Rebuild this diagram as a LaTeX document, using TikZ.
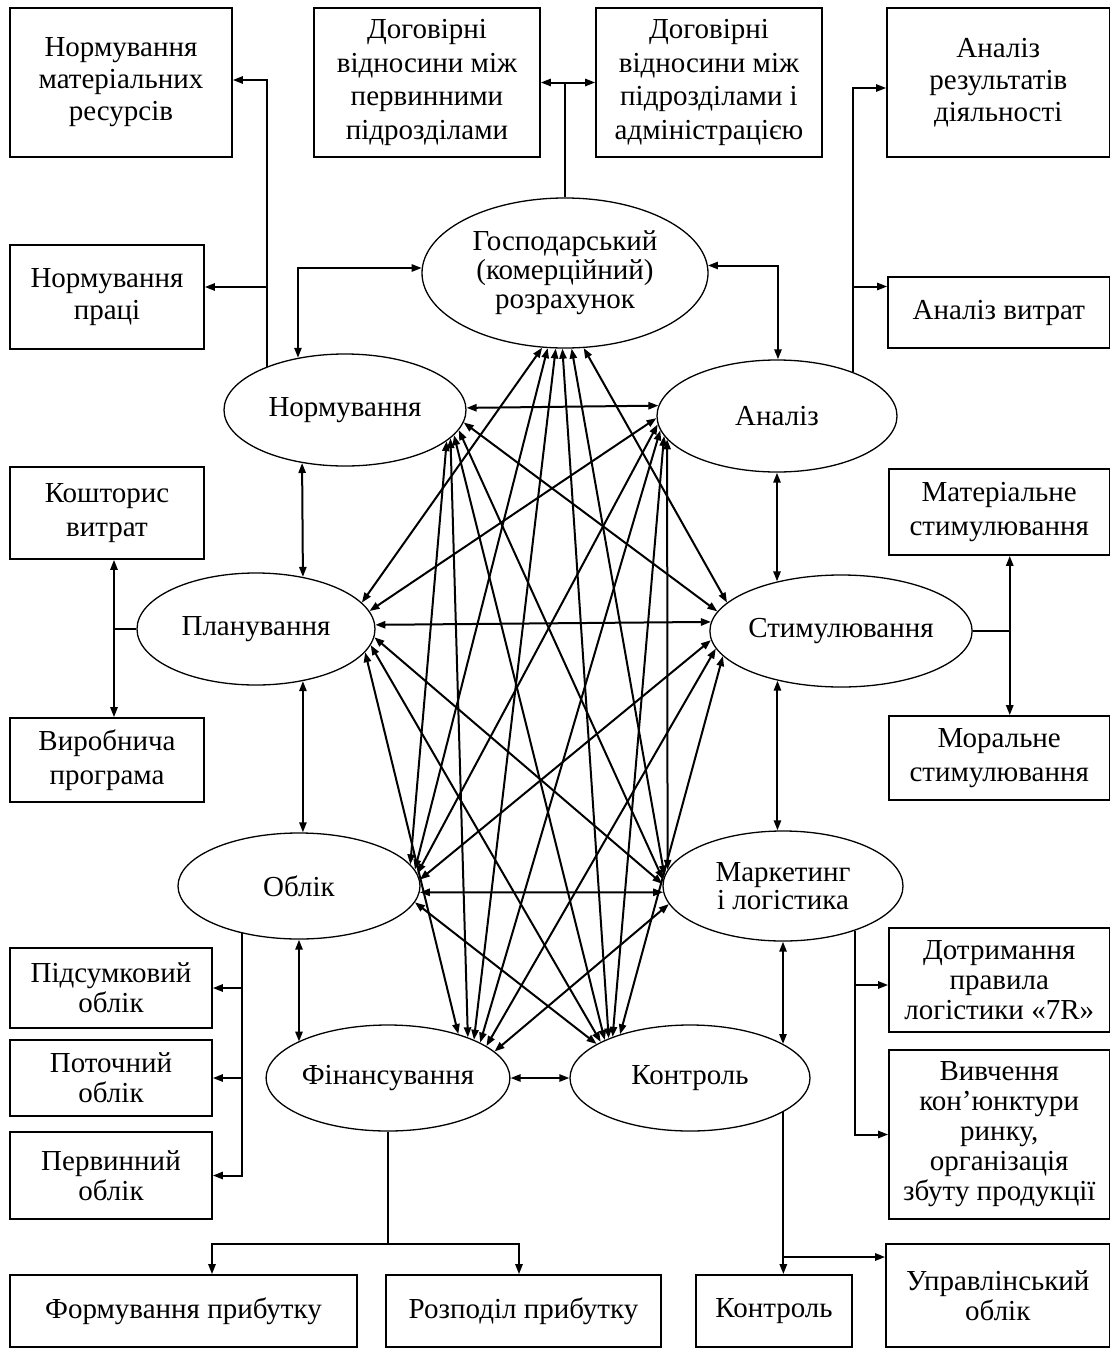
\documentclass[tikz,border=0pt]{standalone}
\usepackage{fontspec}
\setmainfont{Liberation Serif}
\usetikzlibrary{arrows.meta,shapes.geometric}
\begin{document}
\begin{tikzpicture}[x=0.5pt,y=-0.5pt,
  >={Triangle[length=5pt,width=3.6pt]},
  every node/.style={font=\fontsize{14.5}{16}\selectfont, align=center, inner sep=0pt},
  tight/.style={font=\fontsize{14.5}{15}\selectfont},
  loose/.style={font=\fontsize{14.5}{16.7}\selectfont},
  bx/.style 2 args={draw, rectangle, line width=0.85pt, minimum width={#1*0.5pt}, minimum height={#2*0.5pt}},
  el/.style 2 args={draw, ellipse, line width=0.65pt, minimum width={#1*1pt}, minimum height={#2*1pt}},
  arr/.style={line width=1pt, ->},
  darr/.style={line width=1pt, <->},
  ln/.style={line width=0.75pt}]
\useasboundingbox (0,0) rectangle (1111,1349);

% boxes
\node[bx={222}{149}] (nm) at (121,82.5) {Нормування\\матеріальних\\ресурсів};
\node[bx={226}{149}, loose] (dv1) at (427,82.5) {Договірні\\відносини між\\первинними\\підрозділами};
\node[bx={226}{149}, loose] (dv2) at (709,82.5) {Договірні\\відносини між\\підрозділами і\\адміністрацією};
\node[bx={222.5}{149}] (ar) at (998.25,82.5) {Аналіз\\результатів\\діяльності};
\node[bx={194}{104}] (np) at (107,297) {Нормування\\праці};
\node[bx={221.5}{71}] (av) at (998.75,312.5) {Аналіз витрат};
\node[bx={194}{92}, loose] (kv) at (107,513) {Кошторис\\витрат};
\node[bx={194}{84}, loose] (vp) at (107,760) {Виробнича\\програма};
\node[bx={220.5}{86}, loose] (ms) at (999.25,512) {Матеріальне\\стимулювання};
\node[bx={220.5}{84}, loose] (mrs) at (999.25,758) {Моральне\\стимулювання};
\node[bx={202}{80}, tight] (ps) at (111,988) {Підсумковий\\облік};
\node[bx={202}{76}, tight] (po) at (111,1078) {Поточний\\облік};
\node[bx={202}{87}, tight] (pe) at (111,1175.5) {Первинний\\облік};
\node[bx={347}{72}] (fp) at (183.5,1311) {Формування прибутку};
\node[bx={275}{72}] (rp) at (523.5,1311) {Розподіл прибутку};
\node[bx={156}{72}] (kb) at (774,1311) {Контроль};
\node[bx={223.5}{103}, tight] (uo) at (997.75,1295.5) {Управлінський\\облік};
\node[bx={220.5}{104}, tight] (d7) at (999.25,980) {Дотримання\\правила\\логістики «7R»};
\node[bx={220.5}{169}, tight] (vk) at (999.25,1134.5) {Вивчення\\кон’юнктури\\ринку,\\організація\\збуту продукції};

% ellipses
\node[el={143}{75}, font=\fontsize{14.5}{14.5}\selectfont] (G) at (565,273) {Господарський\\(комерційний)\\розрахунок};
\node[el={121}{56}] (N) at (345,410) {Нормування};
\node[el={120}{56}] (A) at (777,416) {Аналіз};
\node[el={119}{56}] (P) at (256,629) {Планування};
\node[el={120}{56}] (S) at (841,631) {Стимулювання};
\node[el={121}{53}] (O) at (299,886) {Облік};
\node[el={120}{55}, font=\fontsize{14.5}{14}\selectfont] (M) at (783,886) {Маркетинг\\і логістика};
\node[el={120}{53}] (F) at (388,1078) {Фінансування};
\node[el={120}{53}] (K) at (690,1078) {Контроль};

% mesh of mutual links
\foreach \a/\b in {G.-107/P.14, G.-103/O.8.5, G.-97/F.24, G.-92/K.154, G.-85/M.175, G.-76/S.166,
  N.1.66/A.175.4, N.-6/S.171, N.-10/M.177, N.-13/K.156, N.-15/F.27, N.-17/O.11,
  A.181/P.9, A.184/O.6, A.187/F.21, A.190/K.152, A.192.2/M.172,
  P.2.9/S.176.15, P.-4/M.179, P.-8/K.158, P.-12/F.32,
  S.184/O.3.5, S.188/F.18, S.192/K.148,
  O.-3.33/M.183.35, O.-8/K.160,
  M.189/F.14}
  \draw[darr] (\a) -- (\b);
\draw[darr] (F.east) -- (K.west);

% neighbour links
\draw[darr] (N.132.3) |- (G.178);
\draw[darr] (G.3.2) -| (A.89);
\draw[darr] (N.-129.4) -- (P.48.3);
\draw[darr] (P.-48.3) -- (P.-48.3 |- O.north);
\draw[darr] (O.south) -- (O.south |- F.158.75);
\draw[darr] (A.south) -- (A.south |- S.142.3);
\draw[darr] (S.-142.3) -- (S.-142.3 |- M.north);
\draw[darr] (M.south) -- (M.south |- K.20.8);

% contracts
\draw[ln] (G.north) -- (G.north |- dv1.east);
\draw[darr] (dv1.east) -- (dv2.west);

% norming branch
\coordinate (nma) at ([yshift=1.25pt]nm.east);
\coordinate (npa) at ([yshift=5pt]np.east);
\draw[arr] (N.151.25) |- (nma);
\draw[arr] (N.151.25 |- npa) -- (npa);

% analysis branch
\coordinate (ara) at ([yshift=-2.75pt]ar.west);
\coordinate (ava) at ([yshift=13pt]av.west);
\draw[arr] (A.30.2) |- (ara);
\draw[arr] (A.30.2 |- ava) -- (ava);

% planning branch
\coordinate (jp) at ([xshift=3.5pt]kv.south |- P.west);
\draw[ln] (P.west) -- (jp);
\draw[darr] (jp |- kv.south) -- (jp |- vp.north);

% stimulation branch
\coordinate (js) at ([xshift=5.25pt]ms.south |- S.east);
\draw[ln] (S.east) -- (js);
\draw[darr] (js |- ms.south) -- (js |- mrs.north);

% accounting branch
\draw[arr] (O.-140) |- (pe.east);
\draw[arr] (O.-140 |- ps.east) -- (ps.east);
\draw[arr] (O.-140 |- po.east) -- (po.east);

% financing branch
\coordinate (fl) at (212,1244);
\coordinate (fr) at (519,1244);
\draw[ln] (F.south) -- (F.south |- fl);
\draw[darr] (fl |- fp.north) -- (fl) -- (fr) -- (fr |- rp.north);

% marketing branch
\coordinate (d7a) at ([yshift=-2.5pt]d7.west);
\draw[arr] (M.-32.6) |- (vk.west);
\draw[arr] (M.-32.6 |- d7a) -- (d7a);

% control branch
\coordinate (kj) at (0,1257);
\draw[arr] (K.-20.3) -- (K.-20.3 |- kb.north);
\draw[arr] (K.-20.3 |- kj) -- (uo.west |- kj);
\end{tikzpicture}
\end{document}
